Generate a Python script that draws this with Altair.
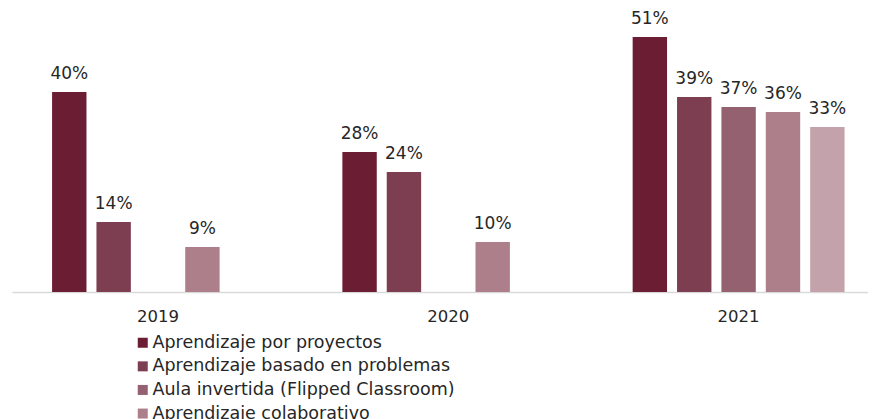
import altair as alt
import pandas as pd

years = ["2019", "2020", "2021"]
series = [
    "Aprendizaje por proyectos",
    "Aprendizaje basado en problemas",
    "Aula invertida (Flipped Classroom)",
    "Aprendizaje colaborativo",
    "Gamificación",
]
colors = ["#6B1D33", "#7E3E51", "#946170", "#AD7F8B", "#C4A2AB"]
values_2019 = [40, 14, None, 9, None]
values_2020 = [28, 24, None, 10, None]
values_2021 = [51, 39, 37, 36, 33]

rows = []
for year, vals in zip(years, [values_2019, values_2020, values_2021]):
    for s, v in zip(series, vals):
        if v is not None:
            rows.append({"year": year, "serie": s, "value": v, "label": f"{v}%"})
df = pd.DataFrame(rows)

FONT = "DejaVu Sans"

x = alt.X("year:N", sort=years,
          scale=alt.Scale(paddingInner=0.27, paddingOuter=0.1094, align=0.631),
          axis=alt.Axis(title=None, labelAngle=0, ticks=False, labelPadding=16,
                        labelFontSize=16.5, labelFont=FONT, labelColor="#262626",
                        domainColor="#D9D9D9", domainWidth=1.5))
xo = alt.XOffset("serie:N", sort=series,
                 scale=alt.Scale(domain=series, paddingInner=0.225, paddingOuter=0))
y = alt.Y("value:Q", scale=alt.Scale(domain=[0, 56.8], nice=False), axis=None)

bars = alt.Chart(df).mark_bar().encode(
    x=x, xOffset=xo, y=y,
    color=alt.Color("serie:N", sort=series,
                    scale=alt.Scale(domain=series, range=colors),
                    legend=alt.Legend(title=None, orient="none", legendX=122, legendY=326,
                                      symbolType="square", symbolSize=100,
                                      symbolStrokeWidth=0, labelOffset=1,
                                      labelFontSize=17.5, labelFont=FONT,
                                      labelColor="#262626", rowPadding=4.6,
                                      labelLimit=600)),
)

labels = alt.Chart(df).mark_text(baseline="alphabetic", dy=-13, fontSize=17,
                                 font=FONT, color="#262626").encode(
    x=x, xOffset=xo, y=y, text="label:N"
)

chart = alt.layer(bars, labels).properties(
    width=856, height=284,
    autosize=alt.AutoSizeParams(type="none"),
    padding={"left": 4, "top": 0, "right": 0, "bottom": 127},
).configure_view(stroke=None)

chart.save("out.html", embed_options={"renderer": "svg", "actions": False})
